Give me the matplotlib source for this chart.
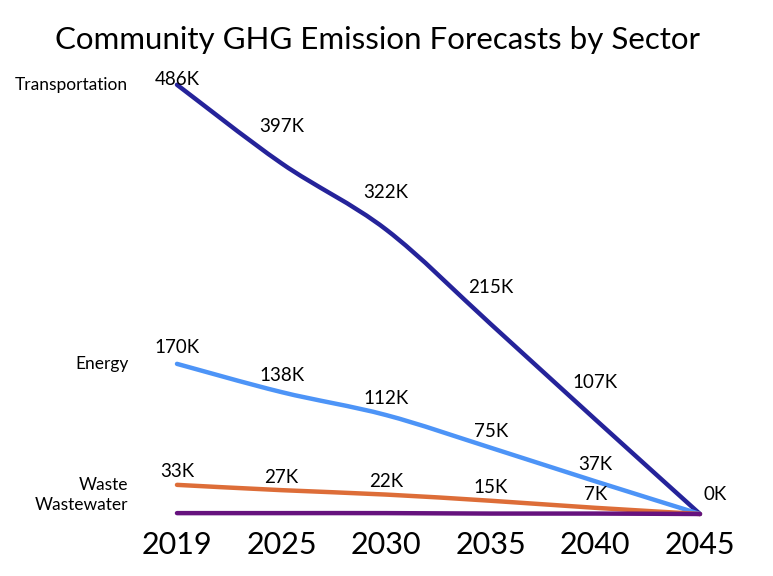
import matplotlib
matplotlib.use("Agg")
from matplotlib import pyplot as plt
from matplotlib.path import Path
from matplotlib.patches import PathPatch
import numpy as np

years = ["2019", "2025", "2030", "2035", "2040", "2045"]
transportation = [486, 397, 322, 215, 107, 0]
energy = [170, 138, 112, 75, 37, 0]
waste = [33, 27, 22, 15, 7, 0]
wastewater = [1, 1, 1, 0.5, 0.5, 0]

series_names = ["Transportation", "Energy", "Waste", "Wastewater"]
series_values = [transportation, energy, waste, wastewater]
colors = ["#25239a", "#4d94f7", "#dd6d38", "#66127e"]
label_offsets = [26.5, 12, 9.4, None]   # points above the marker, None = no labels
name_offsets = [0, 0, 0, 5.8]

plt.rcParams['font.family'] = ['Lato', 'DejaVu Sans']


def smooth_path(xs, ys):
    # catmull-rom style bezier like the spreadsheet "smoothed line"
    pts = np.column_stack([xs, ys]).astype(float)
    verts = [pts[0]]
    codes = [Path.MOVETO]
    n = len(pts)
    for i in range(n - 1):
        p0 = pts[max(i - 1, 0)]
        p1 = pts[i]
        p2 = pts[i + 1]
        p3 = pts[min(i + 2, n - 1)]
        c1 = p1 + (p2 - p0) / 6.0
        c2 = p2 - (p3 - p1) / 6.0
        verts += [c1, c2, p2]
        codes += [Path.CURVE4] * 3
    return Path(verts, codes)


fig = plt.figure(figsize=(7.73, 5.76), dpi=100)
ax = fig.add_axes([0.1552, 0.0972, 0.828, 0.7986])
x = np.arange(len(years))
last = len(x) - 1

for name, vals, col, loff, noff in zip(series_names, series_values, colors, label_offsets, name_offsets):
    patch = PathPatch(smooth_path(x, vals), facecolor="none", edgecolor=col,
                      lw=3.2, capstyle="round", joinstyle="round")
    ax.add_patch(patch)
    if loff is not None:
        for xi, v in zip(x, vals):
            dx, off = 0, loff
            if xi == last:
                # only one 0K label shows at the shared end point
                if name != "Transportation":
                    continue
                dx, off = 11, 13.7
            elif xi == 0 and name == "Transportation":
                off = 3.6
            ax.annotate(f"{v:g}K", (xi, v), xytext=(dx, off), textcoords="offset points",
                        ha="center", va="center", fontsize=13.5, color="black")
    ax.annotate(name, (0, vals[0]), xytext=(-35, noff), textcoords="offset points",
                ha="right", va="center", fontsize=12.5, color="black")

ax.set_xlim(-0.545, 5.574)
ax.set_ylim(-6.8, 514)
ax.set_xticks(x)
ax.set_xticklabels(years, fontsize=22)
ax.tick_params(axis="x", length=0, pad=8)
ax.set_yticks([])
for s in ax.spines.values():
    s.set_visible(False)

fig.text(0.488, 0.93, "Community GHG Emission Forecasts by Sector", ha="center", va="center",
         fontsize=22.5, color="black")

fig.savefig("out.png", dpi=100)
